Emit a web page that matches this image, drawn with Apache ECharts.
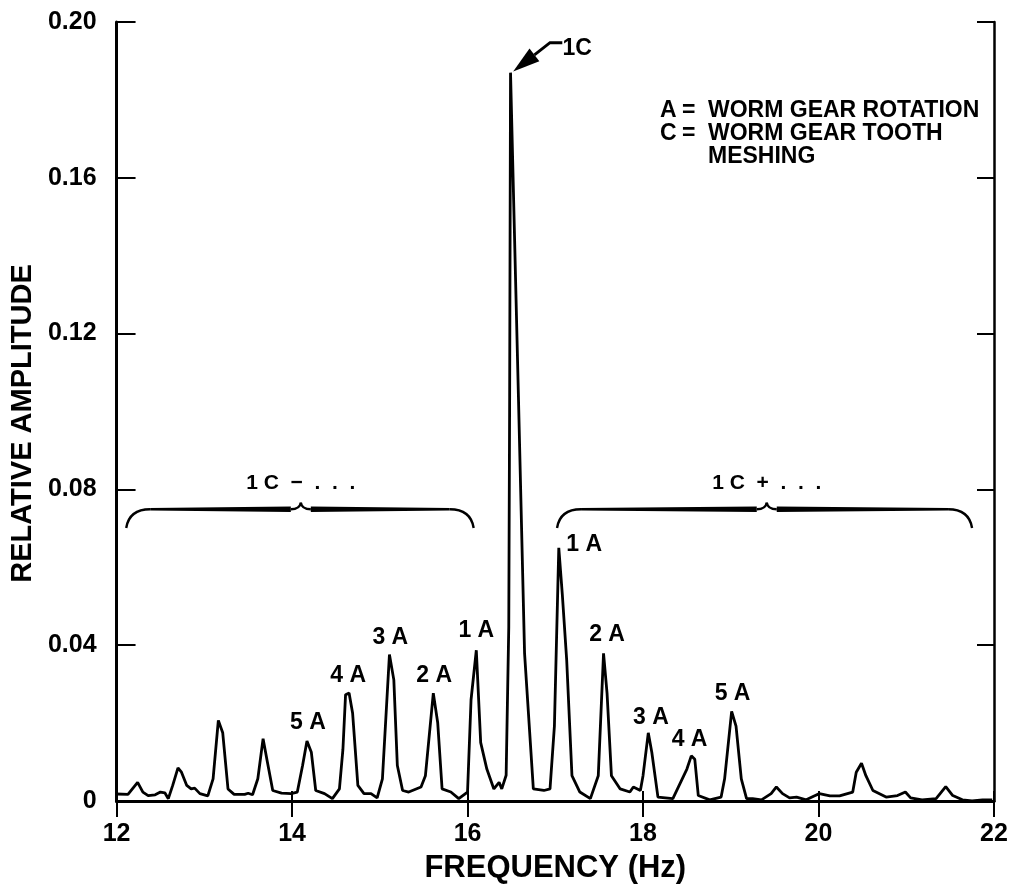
<!DOCTYPE html>
<html>
<head>
<meta charset="utf-8">
<script src="https://cdn.jsdelivr.net/npm/echarts@6/dist/echarts.min.js"></script>
<style>
html, body { margin: 0; background: #fff; }
#spectrum { width: 1016px; height: 889px; }
</style>
</head>
<body>
<div id="spectrum"></div>
<script>
// spectrum trace (Hz, relative amplitude)
var freqHz = [
    12.00, 12.13, 12.24, 12.30, 12.36, 12.44, 12.50, 12.55, 12.59, 12.64,
    12.70, 12.74, 12.80, 12.85, 12.89, 12.95, 13.04, 13.10, 13.16, 13.21,
    13.27, 13.34, 13.46, 13.50, 13.55, 13.61, 13.67, 13.72, 13.78, 13.88,
    13.99, 14.06, 14.12, 14.17, 14.22, 14.27, 14.37, 14.46, 14.54, 14.58,
    14.61, 14.65, 14.69, 14.75, 14.82, 14.90, 14.97, 15.03, 15.11, 15.16,
    15.20, 15.26, 15.33, 15.47, 15.52, 15.61, 15.66, 15.71, 15.81, 15.90,
    16.00, 16.04, 16.10, 16.15, 16.22, 16.30, 16.36, 16.39, 16.44, 16.47,
    16.48, 16.49, 16.58, 16.65, 16.75, 16.87, 16.94, 16.99, 17.04, 17.08,
    17.13, 17.19, 17.28, 17.40, 17.49, 17.55, 17.59, 17.64, 17.74, 17.85,
    17.89, 17.97, 18.00, 18.06, 18.10, 18.17, 18.34, 18.50, 18.55, 18.59,
    18.63, 18.76, 18.89, 18.93, 19.01, 19.06, 19.12, 19.18, 19.25, 19.35,
    19.46, 19.52, 19.59, 19.67, 19.75, 19.86, 19.95, 20.01, 20.13, 20.24,
    20.39, 20.43, 20.49, 20.54, 20.62, 20.77, 20.90, 20.99, 21.05, 21.18,
    21.34, 21.45, 21.53, 21.64, 21.75, 21.87, 21.98
];
var amplitude = [
    0.0018, 0.0017, 0.0048, 0.0023, 0.0014, 0.0016, 0.0023, 0.0021, 0.0006, 0.0040,
    0.0085, 0.0074, 0.0040, 0.0031, 0.0033, 0.0019, 0.0013, 0.0057, 0.0207, 0.0175,
    0.0031, 0.0017, 0.0017, 0.0020, 0.0016, 0.0057, 0.0160, 0.0099, 0.0027, 0.0020,
    0.0019, 0.0023, 0.0091, 0.0154, 0.0125, 0.0027, 0.0019, 0.0006, 0.0031, 0.0133,
    0.0273, 0.0277, 0.0226, 0.0040, 0.0019, 0.0019, 0.0008, 0.0057, 0.0376, 0.0311,
    0.0091, 0.0027, 0.0023, 0.0036, 0.0065, 0.0277, 0.0201, 0.0031, 0.0023, 0.0006,
    0.0023, 0.0260, 0.0387, 0.0150, 0.0082, 0.0031, 0.0048, 0.0031, 0.0066, 0.0447,
    0.1039, 0.1870, 0.1039, 0.0379, 0.0031, 0.0027, 0.0031, 0.0192, 0.0650, 0.0531,
    0.0362, 0.0065, 0.0023, 0.0006, 0.0065, 0.0379, 0.0277, 0.0065, 0.0031, 0.0023,
    0.0036, 0.0027, 0.0065, 0.0175, 0.0125, 0.0010, 0.0006, 0.0082, 0.0116, 0.0107,
    0.0014, 0.0003, 0.0010, 0.0057, 0.0230, 0.0192, 0.0057, 0.0006, 0.0006, 0.0003,
    0.0019, 0.0036, 0.0019, 0.0008, 0.0010, 0.0003, 0.0013, 0.0019, 0.0013, 0.0013,
    0.0023, 0.0074, 0.0097, 0.0065, 0.0027, 0.0010, 0.0014, 0.0023, 0.0008, 0.0003,
    0.0006, 0.0037, 0.0014, 0.0003, 0.0000, 0.0003, 0.0003
];

// peak annotations (text, anchored at Hz / amplitude)
var peakNames = ['5 A', '4 A', '3 A', '2 A', '1 A', '1 A', '2 A', '3 A', '4 A', '5 A', '1C'];
var peakNameHz = [14.18, 14.64, 15.12, 15.62, 16.10, 17.33, 17.59, 18.09, 18.53, 19.02, 17.25];
var peakNameAmp = [0.0200, 0.0321, 0.0419, 0.0322, 0.0438, 0.0659, 0.0428, 0.0215, 0.0158, 0.0276, 0.1932];

// sideband braces: label, start, end, middle (Hz)
var braceNames = ['1 C  \u2212  .  .  .', '1 C  +  .  .  .'];
var braceFrom = [12.11, 17.02];
var braceTo = [16.07, 21.75];
var braceTip = [14.10, 19.41];

var legendKeys = ['A', 'C', ''];
var legendTexts = ['WORM GEAR ROTATION', 'WORM GEAR TOOTH', 'MESHING'];

var FONT = '"Liberation Sans", Arial, Helvetica, sans-serif';

var dom = document.getElementById('spectrum');
var myChart = echarts.init(dom);

var trace = freqHz.map(function (f, i) { return [f, amplitude[i]]; });
var peakData = peakNames.map(function (n, i) { return [peakNameHz[i], peakNameAmp[i], n]; });
var braceLabelData = braceNames.map(function (n, i) { return [braceTip[i], 0.0815, n]; });

function braceShapes(api, i) {
    var L = api.coord([braceFrom[i], 0.0701]);
    var R = api.coord([braceTo[i], 0.0701]);
    var T = api.coord([braceTip[i], 0.0766]);
    var yF = api.coord([braceTip[i], 0.0749])[1];
    var r = 24, r2 = 10;
    var thin = { stroke: '#000', fill: null, lineWidth: 2.4 };
    return [
        { type: 'bezierCurve', shape: { x1: L[0], y1: L[1], cpx1: L[0] + 3, cpy1: yF, x2: L[0] + r, y2: yF }, style: thin },
        { type: 'polygon', shape: { points: [[L[0] + r, yF - 1.3], [T[0] - r2, yF - 2.8], [T[0] - r2, yF + 2.8], [L[0] + r, yF + 1.3]] }, style: { fill: '#000' } },
        { type: 'bezierCurve', shape: { x1: T[0] - r2, y1: yF, cpx1: T[0] - 1, cpy1: yF, x2: T[0], y2: T[1] }, style: thin },
        { type: 'bezierCurve', shape: { x1: T[0], y1: T[1], cpx1: T[0] + 1, cpy1: yF, x2: T[0] + r2, y2: yF }, style: thin },
        { type: 'polygon', shape: { points: [[T[0] + r2, yF - 2.8], [R[0] - r, yF - 1.3], [R[0] - r, yF + 1.3], [T[0] + r2, yF + 2.8]] }, style: { fill: '#000' } },
        { type: 'bezierCurve', shape: { x1: R[0] - r, y1: yF, cpx1: R[0] - 3, cpy1: yF, x2: R[0], y2: R[1] }, style: thin }
    ];
}

function arrowShapes(api) {
    var tip = api.coord([16.52, 0.1873]);
    var bend = api.coord([16.94, 0.1947]);
    var end = api.coord([17.08, 0.1947]);
    var dx = bend[0] - tip[0], dy = bend[1] - tip[1];
    var len = Math.sqrt(dx * dx + dy * dy);
    var ux = dx / len, uy = dy / len;
    var hl = 27, hw = 8;
    var bx = tip[0] + ux * hl, by = tip[1] + uy * hl;
    return [
        { type: 'polyline', shape: { points: [end, bend, [bx, by]] }, style: { stroke: '#000', fill: null, lineWidth: 3 } },
        { type: 'polygon', shape: { points: [tip, [bx - uy * hw, by + ux * hw], [bx + uy * hw, by - ux * hw]] }, style: { fill: '#000' } }
    ];
}

var legendGraphics = [];
legendTexts.forEach(function (t, i) {
    var y = 111 + i * 23;
    var style = { font: 'bold 23px ' + FONT, fill: '#000', textVerticalAlign: 'middle' };
    if (legendKeys[i]) {
        legendGraphics.push({ type: 'text', x: 660, y: y, style: Object.assign({ text: legendKeys[i] }, style) });
        legendGraphics.push({ type: 'text', x: 682, y: y, style: Object.assign({ text: '=' }, style) });
    }
    legendGraphics.push({ type: 'text', x: 708, y: y, style: Object.assign({ text: t }, style) });
});

function textLabel(size) {
    return {
        show: true, position: 'inside', color: '#000', opacity: 1,
        textBorderWidth: 0, fontFamily: FONT, fontWeight: 'bold', fontSize: size,
        formatter: function (p) { return p.data[2]; }
    };
}

option = {
    animation: false,
    backgroundColor: '#fff',
    textStyle: { fontFamily: FONT },
    grid: { left: 115, right: 22, top: 22, bottom: 80 },
    graphic: legendGraphics,
    xAxis: [
        {
            type: 'value', min: 12, max: 22, interval: 2,
            name: 'FREQUENCY (Hz)', nameLocation: 'middle', nameGap: 52,
            nameTextStyle: { fontFamily: FONT, fontWeight: 'bold', fontSize: 31, color: '#000' },
            axisLine: { lineStyle: { color: '#000', width: 3 } },
            axisTick: { inside: true, length: 10, lineStyle: { color: '#000', width: 2 } },
            axisLabel: { fontFamily: FONT, fontWeight: 'bold', fontSize: 25, color: '#000', margin: 21 },
            splitLine: { show: false }
        },
        {
            type: 'value', position: 'top', min: 12, max: 22, interval: 2,
            axisLine: { show: true, lineStyle: { color: '#000', width: 2.5 } },
            axisTick: { inside: true, length: 16, lineStyle: { color: '#000', width: 2 } },
            axisLabel: { show: false },
            splitLine: { show: false }
        }
    ],
    yAxis: [
        {
            type: 'value', min: 0, max: 0.2, interval: 0.04,
            name: 'RELATIVE AMPLITUDE', nameLocation: 'middle', nameGap: 72,
            nameTextStyle: { fontFamily: FONT, fontWeight: 'bold', fontSize: 29, color: '#000', padding: [0, 24, 0, 0] },
            axisLine: { show: true, lineStyle: { color: '#000', width: 3 } },
            axisTick: { show: true, inside: true, length: 19, lineStyle: { color: '#000', width: 2 } },
            axisLabel: {
                fontFamily: FONT, fontWeight: 'bold', fontSize: 25, color: '#000', margin: 20,
                formatter: function (v) { return v === 0 ? '0' : v.toFixed(2); }
            },
            splitLine: { show: false }
        },
        {
            type: 'value', position: 'right', min: 0, max: 0.2, interval: 0.04,
            axisLine: { show: true, lineStyle: { color: '#000', width: 2.5 } },
            axisTick: { show: true, inside: true, length: 17, lineStyle: { color: '#000', width: 2 } },
            axisLabel: { show: false },
            splitLine: { show: false }
        }
    ],
    series: [
        {
            name: 'spectrum',
            type: 'line',
            data: trace,
            showSymbol: false,
            smooth: false,
            lineStyle: { color: '#000', width: 2.8 },
            z: 3
        },
        {
            name: 'peaks',
            type: 'scatter',
            data: peakData,
            symbolSize: 0,
            itemStyle: { color: '#000', opacity: 1 },
            label: textLabel(23),
            z: 4
        },
        {
            name: 'sidebands',
            type: 'scatter',
            data: braceLabelData,
            symbolSize: 0,
            itemStyle: { color: '#000', opacity: 1 },
            label: textLabel(21),
            z: 4
        },
        {
            name: 'marks',
            type: 'custom',
            data: [[12, 0]],
            silent: true,
            renderItem: function (params, api) {
                return {
                    type: 'group',
                    children: braceShapes(api, 0).concat(braceShapes(api, 1), arrowShapes(api))
                };
            },
            z: 5
        }
    ]
};

if (option && typeof option === "object") {
    myChart.setOption(option, true);
}
</script>
</body>
</html>
